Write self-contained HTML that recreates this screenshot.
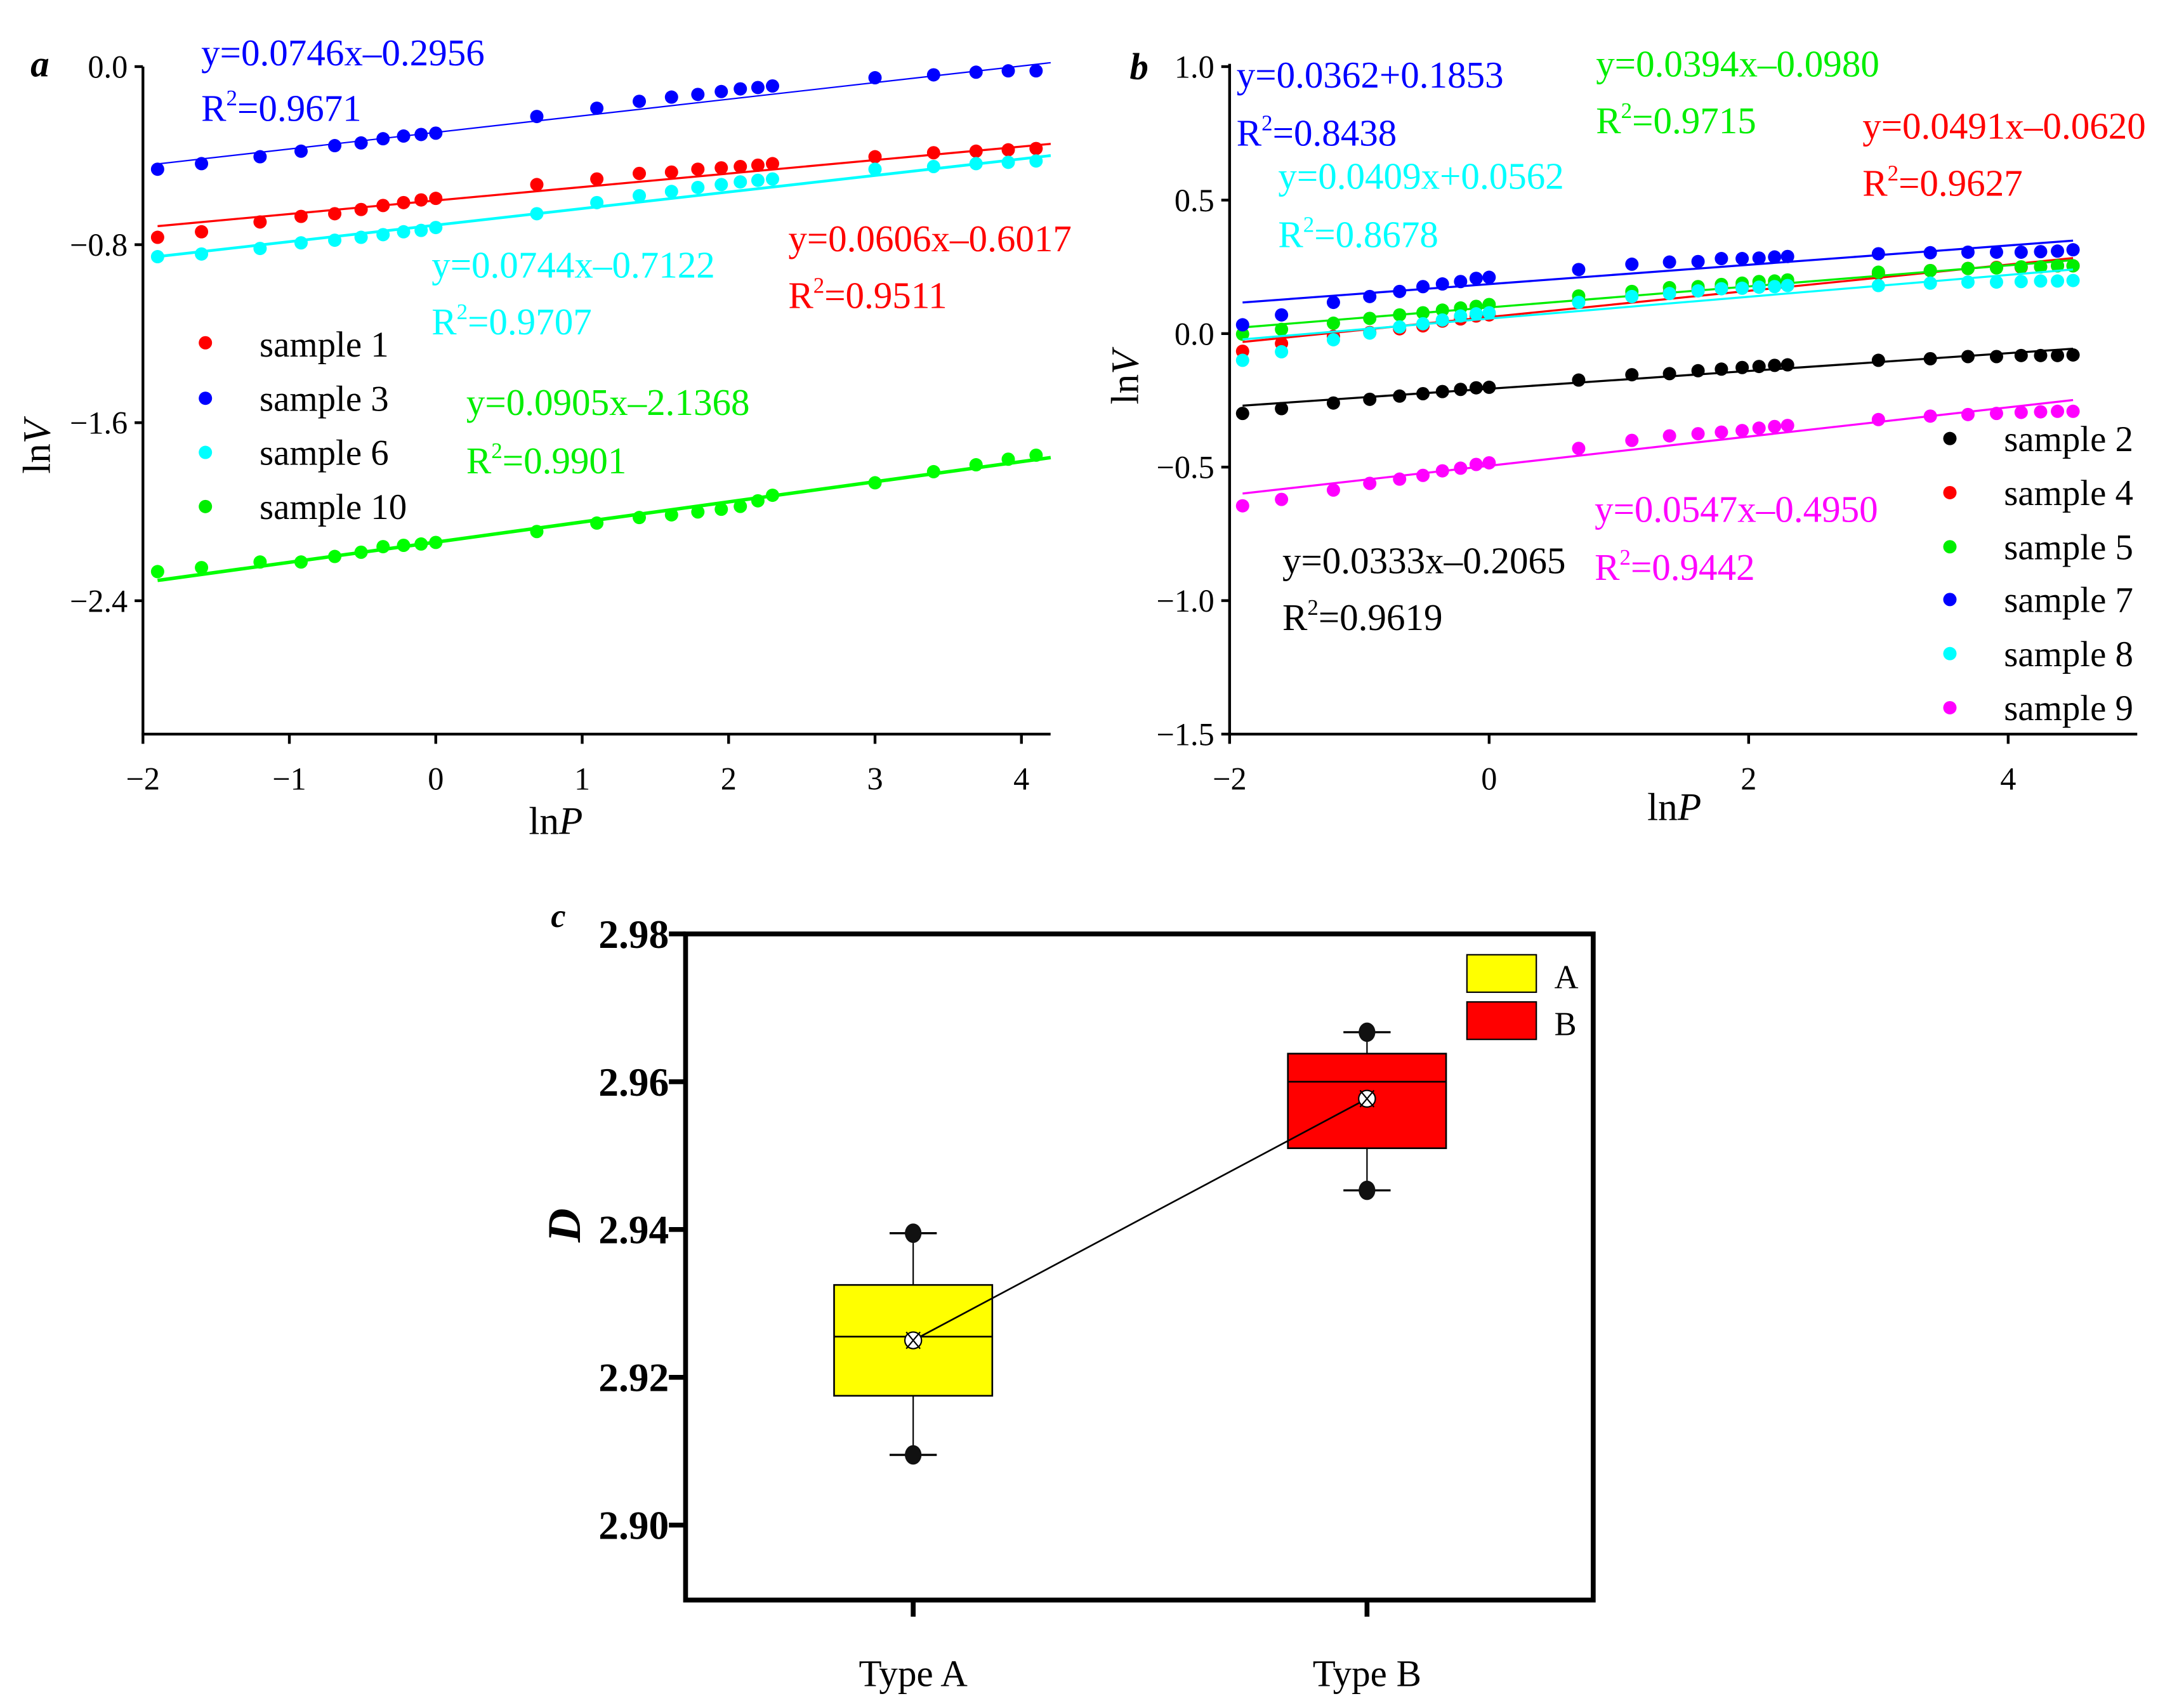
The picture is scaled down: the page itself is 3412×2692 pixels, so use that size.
<!DOCTYPE html>
<html><head><meta charset="utf-8"><style>
html,body{margin:0;padding:0;background:#fff}
svg{display:block;font-family:"Liberation Serif",serif}
</style></head><body>
<svg id="fig" width="3412" height="2692" viewBox="0 0 1560 1230.8" xmlns="http://www.w3.org/2000/svg">
<g id="pa"></g>
<g id="pb"></g>
<g id="pc"></g>
</svg>
<script>
// ---------- Panel a data ----------
const aX = [-1.9,-1.6,-1.2,-0.92,-0.69,-0.51,-0.36,-0.22,-0.1,0,0.69,1.1,1.39,1.61,1.79,1.95,2.08,2.2,2.3,3.0,3.4,3.69,3.91,4.1];
const aS1 = [-0.767,-0.742,-0.698,-0.673,-0.661,-0.642,-0.624,-0.611,-0.599,-0.592,-0.530,-0.505,-0.480,-0.474,-0.461,-0.455,-0.449,-0.443,-0.436,-0.405,-0.387,-0.380,-0.374,-0.368];
const aS3 = [-0.461,-0.436,-0.405,-0.380,-0.355,-0.343,-0.324,-0.312,-0.305,-0.299,-0.224,-0.187,-0.156,-0.137,-0.125,-0.112,-0.100,-0.094,-0.087,-0.050,-0.037,-0.025,-0.019,-0.019];
const aS6 = [-0.854,-0.842,-0.817,-0.792,-0.780,-0.767,-0.755,-0.742,-0.736,-0.723,-0.661,-0.611,-0.580,-0.561,-0.543,-0.530,-0.518,-0.511,-0.505,-0.461,-0.449,-0.436,-0.430,-0.424];
const aS10 = [-2.269,-2.251,-2.226,-2.226,-2.201,-2.182,-2.157,-2.151,-2.145,-2.138,-2.089,-2.051,-2.026,-2.014,-2.001,-1.989,-1.976,-1.951,-1.926,-1.870,-1.820,-1.789,-1.764,-1.746];
const aSlopes = [0.0606,0.0746,0.0744,0.0905];
const aInter = [-0.6017,-0.2956,-0.7122,-2.1368];
const aXTicks = [-2,-1,0,1,2,3,4];
const aYTicks = [0.0,-0.8,-1.6,-2.4];
// ---------- Panel b data ----------
const bX = [-1.9,-1.6,-1.2,-0.92,-0.69,-0.51,-0.36,-0.22,-0.1,0,0.69,1.1,1.39,1.61,1.79,1.95,2.08,2.2,2.3,3.0,3.4,3.69,3.91,4.1,4.25,4.38,4.5];
const bS2 = [-0.299,-0.281,-0.260,-0.246,-0.234,-0.225,-0.217,-0.209,-0.203,-0.201,-0.174,-0.154,-0.150,-0.139,-0.133,-0.127,-0.123,-0.119,-0.117,-0.100,-0.094,-0.086,-0.086,-0.082,-0.082,-0.082,-0.080];
const bS4 = [-0.066,-0.037,-0.010,0.004,0.018,0.029,0.047,0.055,0.066,0.070,0.123,0.143,0.154,0.168,0.174,0.178,0.180,0.184,0.189,0.225,0.236,0.244,0.248,0.248,0.250,0.254,0.254];
const bS5 = [-0.002,0.016,0.039,0.057,0.070,0.078,0.088,0.096,0.102,0.109,0.141,0.158,0.172,0.176,0.184,0.189,0.195,0.197,0.201,0.230,0.236,0.244,0.246,0.250,0.250,0.254,0.254];
const bS7 = [0.033,0.070,0.117,0.139,0.158,0.176,0.186,0.195,0.207,0.211,0.240,0.260,0.268,0.270,0.281,0.281,0.283,0.287,0.289,0.299,0.303,0.305,0.305,0.305,0.307,0.309,0.314];
const bS8 = [-0.100,-0.068,-0.023,0.002,0.025,0.037,0.051,0.066,0.074,0.078,0.117,0.139,0.150,0.160,0.168,0.170,0.174,0.176,0.180,0.180,0.189,0.193,0.193,0.195,0.197,0.197,0.199];
const bS9 = [-0.645,-0.621,-0.586,-0.561,-0.545,-0.531,-0.514,-0.504,-0.490,-0.484,-0.430,-0.400,-0.383,-0.375,-0.369,-0.363,-0.354,-0.348,-0.344,-0.322,-0.309,-0.303,-0.299,-0.295,-0.293,-0.291,-0.291];
const bSlopes = [0.0333,0.0491,0.0394,0.0362,0.0409,0.0547];
const bInter = [-0.2065,0.0620,0.0980,0.1853,0.0562,-0.4950];
const bXTicks = [-2,0,2,4];
const bYTicks = [1.0,0.5,0.0,-0.5,-1.0,-1.5];
// ---------- Panel c data ----------
const cCats = ['Type A','Type B'];
const cQ1 = [2.9175,2.9510];
const cQ3 = [2.9325,2.9638];
const cMed = [2.9255,2.9600];
const cMean = [2.9250,2.9577];
const cMin = [2.9095,2.9453];
const cMax = [2.9395,2.9667];
const cYTicks = ['2.90','2.92','2.94','2.96','2.98'];

const NS='http://www.w3.org/2000/svg';
function mk(parent,tag,attrs,text){const e=document.createElementNS(NS,tag);for(const k in attrs)e.setAttribute(k,attrs[k]);if(text!==undefined)e.textContent=text;parent.appendChild(e);return e;}
function fmt(v,d){const s=Math.abs(v).toFixed(d);return (v<0?'\u2212':'')+s;}

// ===== Panel A =====
(function(){
const g=document.getElementById('pa');
const X0=103,Xend=757,Y0=48,Yb=529;
const xs=v=>103+(v+2)*105.5;
const ys=v=>48-v/0.8*128.3;
let ax=mk(g,'line',{x1:X0,y1:Y0,x2:X0,y2:Yb,stroke:'#000','stroke-width':2});
 
ax=mk(g,'line',{x1:X0-1,y1:Yb,x2:Xend,y2:Yb,stroke:'#000','stroke-width':2});
 
aXTicks.forEach(t=>{mk(g,'line',{x1:xs(t),y1:Yb,x2:xs(t),y2:Yb+7,stroke:'#000','stroke-width':2});
 const l=mk(g,'text',{x:xs(t),y:Yb+40,'font-size':23,'text-anchor':'middle'},fmt(t,0));
  });
aYTicks.forEach(t=>{mk(g,'line',{x1:X0-6,y1:ys(t),x2:X0,y2:ys(t),stroke:'#000','stroke-width':2});
 const l=mk(g,'text',{x:X0-11,y:ys(t)+8,'font-size':23,'text-anchor':'end'},fmt(t,1));
  });
const series=[aS1,aS3,aS6,aS10], cols=['#ff0000','#0000ff','#00ffff','#00ff00'], names=['sample-1','sample-3','sample-6','sample-10'];
const lw=[1.5,1,2,2.5];
series.forEach((s,i)=>{
 const ln=mk(g,'line',{x1:xs(-1.9),y1:ys(aSlopes[i]*-1.9+aInter[i]),x2:xs(4.2),y2:ys(aSlopes[i]*4.2+aInter[i]),stroke:cols[i],'stroke-width':lw[i]});
  
 s.forEach((v,j)=>{const c=mk(g,'circle',{cx:xs(aX[j]),cy:ys(v),r:4.8,fill:cols[i]});
   });
});
})();

// ===== Panel B =====
(function(){
const g=document.getElementById('pb');
const X0=886,Xend=1540,Yb=529;
const xs=v=>886+(v+2)*93.5;
const ys=v=>240.4-v*192.4;
let ax=mk(g,'line',{x1:X0,y1:46,x2:X0,y2:Yb,stroke:'#000','stroke-width':2});
 
ax=mk(g,'line',{x1:X0-1,y1:Yb,x2:Xend,y2:Yb,stroke:'#000','stroke-width':2});
 
bXTicks.forEach(t=>{mk(g,'line',{x1:xs(t),y1:Yb,x2:xs(t),y2:Yb+7,stroke:'#000','stroke-width':2});
 const l=mk(g,'text',{x:xs(t),y:Yb+40,'font-size':23,'text-anchor':'middle'},fmt(t,0));
  });
bYTicks.forEach(t=>{mk(g,'line',{x1:X0-6,y1:ys(t),x2:X0,y2:ys(t),stroke:'#000','stroke-width':2});
 const l=mk(g,'text',{x:X0-11,y:ys(t)+8,'font-size':23,'text-anchor':'end'},fmt(t,1));
  });
const series=[bS2,bS4,bS5,bS7,bS8,bS9], cols=['#000000','#ff0000','#00ee00','#0000ff','#00ffff','#ff00ff'];
const names=['sample-2','sample-4','sample-5','sample-7','sample-8','sample-9'];
series.forEach((s,i)=>{
 const ln=mk(g,'line',{x1:xs(-1.9),y1:ys(bSlopes[i]*-1.9+bInter[i]),x2:xs(4.5),y2:ys(bSlopes[i]*4.5+bInter[i]),stroke:cols[i],'stroke-width':1.5});
  
 s.forEach((v,j)=>{const c=mk(g,'circle',{cx:xs(bX[j]),cy:ys(v),r:4.8,fill:cols[i]});
   });
});
})();

// ===== Panel C =====
(function(){
const g=document.getElementById('pc');
const L=494,R=1148,T=673,B=1153;
const ys=v=>673+(2.98-v)/0.02*106.5;
const cx=[658,985];
cYTicks.forEach(t=>{const v=parseFloat(t);mk(g,'line',{x1:L-12,y1:ys(v),x2:L,y2:ys(v),stroke:'#000','stroke-width':3.5});
 const l=mk(g,'text',{x:L-12,y:ys(v)+10,'font-size':29,'font-weight':'bold','text-anchor':'end'},t);
  });
const fills=['#ffff00','#ff0000'];
cCats.forEach((c,i)=>{
 const x=cx[i],hw=57;
 mk(g,'line',{x1:x,y1:B,x2:x,y2:B+12,stroke:'#000','stroke-width':3.5});
 const l=mk(g,'text',{x:x,y:1215,'font-size':27,'text-anchor':'middle'},c);
  
 mk(g,'line',{x1:x,y1:ys(cMax[i]),x2:x,y2:ys(cMin[i]),stroke:'#000','stroke-width':1});
 [cMax[i],cMin[i]].forEach(v=>mk(g,'line',{x1:x-17,y1:ys(v),x2:x+17,y2:ys(v),stroke:'#000','stroke-width':1.5}));
 const bx=mk(g,'rect',{x:x-hw,y:ys(cQ3[i]),width:2*hw,height:ys(cQ1[i])-ys(cQ3[i]),fill:fills[i],stroke:'#000','stroke-width':1.2});
  
 mk(g,'line',{x1:x-hw,y1:ys(cMed[i]),x2:x+hw,y2:ys(cMed[i]),stroke:'#000','stroke-width':1.2});
 [cMax[i],cMin[i]].forEach(v=>{const o=mk(g,'ellipse',{cx:x,cy:ys(v),rx:6,ry:7,fill:'#111'});
   });
});
const ml=mk(g,'line',{x1:cx[0],y1:ys(cMean[0]),x2:cx[1],y2:ys(cMean[1]),stroke:'#000','stroke-width':1.2});
 
cCats.forEach((c,i)=>{const x=cx[i],y=ys(cMean[i]);
 const m=mk(g,'circle',{cx:x,cy:y,r:6,fill:'#fff',stroke:'#000','stroke-width':1});
  
 mk(g,'path',{d:`M${x-5} ${y-6}L${x+5} ${y+6}M${x+5} ${y-6}L${x-5} ${y+6}`,stroke:'#000','stroke-width':1});});
const fr=mk(g,'rect',{x:L,y:T,width:R-L,height:B-T,fill:'none',stroke:'#000','stroke-width':3.5});
 
})();
</script>

<svg style="position:absolute;left:0;top:0" width="3412" height="2692" viewBox="0 0 1560 1230.8" xmlns="http://www.w3.org/2000/svg" font-family="Liberation Serif, serif">
<!-- Panel a labels -->
<text x="22" y="55" font-size="27" font-weight="bold" font-style="italic">a</text>
<text x="381" y="601" font-size="28">ln<tspan font-style="italic">P</tspan></text>
<text transform="translate(36,322) rotate(-90)" font-size="28" text-anchor="middle">ln<tspan font-style="italic">V</tspan></text>
<g font-size="27">
<text x="145" y="47" fill="#0000ff">y=0.0746x–0.2956</text>
<text x="145" y="87" fill="#0000ff">R<tspan font-size="16" dy="-11">2</tspan><tspan dy="11">=0.9671</tspan></text>
<text x="311" y="200" fill="#00ffff">y=0.0744x–0.7122</text>
<text x="311" y="241" fill="#00ffff">R<tspan font-size="16" dy="-11">2</tspan><tspan dy="11">=0.9707</tspan></text>
<text x="568" y="181" fill="#ff0000">y=0.0606x–0.6017</text>
<text x="568" y="222" fill="#ff0000">R<tspan font-size="16" dy="-11">2</tspan><tspan dy="11">=0.9511</tspan></text>
<text x="336" y="299" fill="#00ee00">y=0.0905x–2.1368</text>
<text x="336" y="341" fill="#00ee00">R<tspan font-size="16" dy="-11">2</tspan><tspan dy="11">=0.9901</tspan></text>
</g>
<g font-size="26">
<circle cx="148" cy="247" r="4.8" fill="#ff0000"/><text x="187" y="257">sample 1</text>
<circle cx="148" cy="287" r="4.8" fill="#0000ff"/><text x="187" y="296">sample 3</text>
<circle cx="148" cy="326" r="4.8" fill="#00ffff"/><text x="187" y="335">sample 6</text>
<circle cx="148" cy="365" r="4.8" fill="#00ee00"/><text x="187" y="374">sample 10</text>
</g>
<!-- Panel b labels -->
<text x="814" y="57" font-size="27" font-weight="bold" font-style="italic">b</text>
<text x="1187" y="591" font-size="28">ln<tspan font-style="italic">P</tspan></text>
<text transform="translate(820,272) rotate(-90)" font-size="28" text-anchor="middle">ln<tspan font-style="italic">V</tspan></text>
<g font-size="27">
<text x="891" y="63" fill="#0000ff">y=0.0362+0.1853</text>
<text x="891" y="105" fill="#0000ff">R<tspan font-size="16" dy="-11">2</tspan><tspan dy="11">=0.8438</tspan></text>
<text x="1150" y="55" fill="#00ee00">y=0.0394x–0.0980</text>
<text x="1150" y="96" fill="#00ee00">R<tspan font-size="16" dy="-11">2</tspan><tspan dy="11">=0.9715</tspan></text>
<text x="1342" y="100" fill="#ff0000">y=0.0491x–0.0620</text>
<text x="1342" y="141" fill="#ff0000">R<tspan font-size="16" dy="-11">2</tspan><tspan dy="11">=0.9627</tspan></text>
<text x="921" y="136" fill="#00ffff">y=0.0409x+0.0562</text>
<text x="921" y="178" fill="#00ffff">R<tspan font-size="16" dy="-11">2</tspan><tspan dy="11">=0.8678</tspan></text>
<text x="924" y="413" fill="#000">y=0.0333x–0.2065</text>
<text x="924" y="454" fill="#000">R<tspan font-size="16" dy="-11">2</tspan><tspan dy="11">=0.9619</tspan></text>
<text x="1149" y="376" fill="#ff00ff">y=0.0547x–0.4950</text>
<text x="1149" y="418" fill="#ff00ff">R<tspan font-size="16" dy="-11">2</tspan><tspan dy="11">=0.9442</tspan></text>
</g>
<g font-size="26">
<circle cx="1405" cy="316" r="4.8" fill="#000"/><text x="1444" y="325">sample 2</text>
<circle cx="1405" cy="355" r="4.8" fill="#ff0000"/><text x="1444" y="364">sample 4</text>
<circle cx="1405" cy="394" r="4.8" fill="#00ee00"/><text x="1444" y="403">sample 5</text>
<circle cx="1405" cy="432" r="4.8" fill="#0000ff"/><text x="1444" y="441">sample 7</text>
<circle cx="1405" cy="471" r="4.8" fill="#00ffff"/><text x="1444" y="480">sample 8</text>
<circle cx="1405" cy="510" r="4.8" fill="#ff00ff"/><text x="1444" y="519">sample 9</text>
</g>
<!-- Panel c labels -->
<text x="397" y="668" font-size="24" font-weight="bold" font-style="italic">c</text>
<text transform="translate(418,883) rotate(-90)" font-size="34" font-weight="bold" font-style="italic" text-anchor="middle">D</text>
<g>
<rect x="1057" y="688" width="50" height="27" fill="#ffff00" stroke="#000" stroke-width="1"/>
<text x="1120" y="712" font-size="24">A</text>
<rect x="1057" y="722" width="50" height="27" fill="#ff0000" stroke="#000" stroke-width="1"/>
<text x="1120" y="746" font-size="24">B</text>
</g>
</svg>
</body></html>
